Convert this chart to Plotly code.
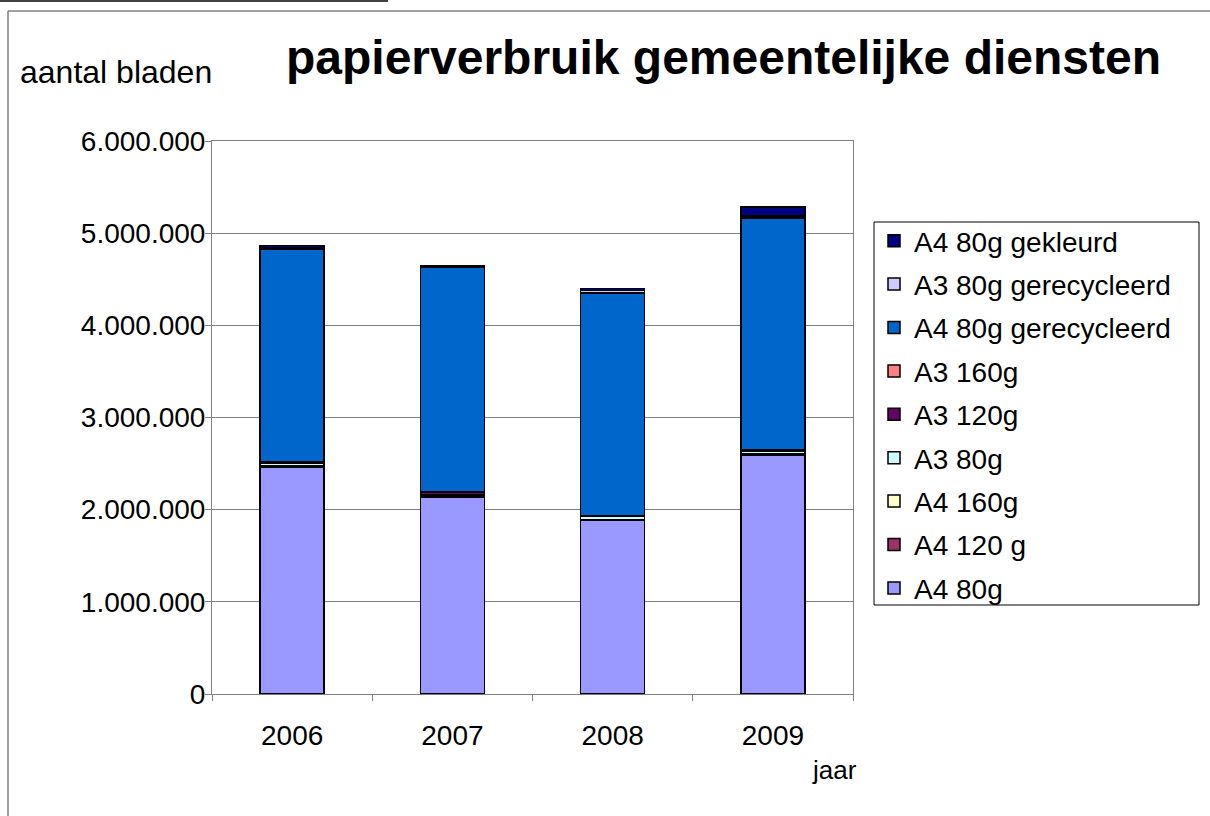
"""Paper usage of municipal services, stacked per paper type."""

import plotly.graph_objects as go

years = ['2006', '2007', '2008', '2009']

# series, bottom to top of the stack
series_names = [
    'A4 80g',
    'A4 120 g',
    'A4 160g',
    'A3 80g',
    'A3 120g',
    'A3 160g',
    'A4 80g gerecycleerd',
    'A3 80g gerecycleerd',
    'A4 80g gekleurd',
]
a4_80 = [2460000, 2140000, 1880000, 2590000]
a4_120 = [5000, 10000, 5000, 5000]
a4_160 = [10000, 5000, 10000, 10000]
a3_80 = [30000, 10000, 30000, 30000]
a3_120 = [5000, 20000, 5000, 10000]
a3_160 = [5000, 5000, 5000, 5000]
a4_80_recycled = [2315000, 2440000, 2415000, 2515000]
a3_80_recycled = [10000, 5000, 30000, 20000]
a4_80_colored = [25000, 15000, 20000, 100000]

series_values = [a4_80, a4_120, a4_160, a3_80, a3_120, a3_160,
                 a4_80_recycled, a3_80_recycled, a4_80_colored]
series_colors = ['#9999FF', '#993366', '#FFFFCC', '#CCFFFF', '#660066',
                 '#FF8080', '#0066CC', '#CCCCFF', '#000080']

FONT = 'Liberation Sans, Arial, sans-serif'

# plot area in pixels
L, R, T, B = 212, 853, 141, 694
W, H = 1210, 816


def px_x(x):
    return (x - L) / (R - L)


def px_y(y):
    return (B - y) / (B - T)


fig = go.Figure()
n = len(series_names)
for i, (name, vals, color) in enumerate(zip(series_names, series_values, series_colors)):
    fig.add_trace(go.Bar(
        x=years,
        y=vals,
        name=name,
        legendgroup=name,
        legendrank=100 + n - i,  # top of stack first in legend
        marker=dict(color=color, line=dict(color='black', width=1.5)),
    ))

fig.update_layout(
    width=W,
    height=H,
    barmode='stack',
    bargap=0.6,
    separators=',.',
    paper_bgcolor='white',
    plot_bgcolor='white',
    font=dict(family=FONT, size=28, color='black'),
    margin=dict(l=L, r=W - R, t=T, b=H - B, autoexpand=False),
    legend=dict(
        traceorder='grouped',
        tracegroupgap=4,
        x=px_x(874),
        y=px_y(216),
        xanchor='left',
        yanchor='top',
        bgcolor='rgba(0,0,0,0)',
        borderwidth=0,
        font=dict(size=28, family=FONT),
        itemwidth=30,
    ),
    xaxis=dict(
        showline=True,
        linecolor='#808080',
        linewidth=1,
        mirror=True,
        ticks='outside',
        tickson='boundaries',
        ticklen=6,
        tickcolor='#808080',
        ticklabelstandoff=16,
    ),
    yaxis=dict(
        range=[0, 6000000],
        dtick=1000000,
        tickformat=',d',
        showgrid=True,
        gridcolor='#808080',
        gridwidth=1,
        showline=True,
        linecolor='#808080',
        linewidth=1,
        mirror=True,
        ticks='outside',
        ticklen=6,
        tickcolor='#808080',
        ticklabelstandoff=-6,
        zeroline=False,
    ),
)

fig.add_annotation(
    text='<b>papierverbruik gemeentelijke diensten</b>',
    x=px_x(723), y=px_y(57), xref='paper', yref='paper',
    xanchor='center', yanchor='middle',
    showarrow=False, font=dict(size=48, family=FONT),
)
fig.add_annotation(
    text='aantal bladen',
    x=px_x(18), y=px_y(72), xref='paper', yref='paper',
    xanchor='left', yanchor='middle',
    showarrow=False, font=dict(size=32, family=FONT),
)
fig.add_annotation(
    text='jaar',
    x=px_x(810), y=px_y(770), xref='paper', yref='paper',
    xanchor='left', yanchor='middle',
    showarrow=False, font=dict(size=26, family=FONT),
)

# legend box
fig.add_shape(type='rect', xref='paper', yref='paper',
              x0=px_x(874), x1=px_x(1199), y0=px_y(222), y1=px_y(605),
              line=dict(color='black', width=1))

# surrounding frame of the chart object
fig.add_shape(type='line', xref='paper', yref='paper',
              x0=px_x(8), x1=px_x(1210), y0=px_y(11), y1=px_y(11),
              line=dict(color='#808080', width=1.5))
fig.add_shape(type='line', xref='paper', yref='paper',
              x0=px_x(8), x1=px_x(8), y0=px_y(11), y1=px_y(816),
              line=dict(color='#808080', width=1.5))
fig.add_shape(type='line', xref='paper', yref='paper',
              x0=px_x(0), x1=px_x(388), y0=px_y(1), y1=px_y(1),
              line=dict(color='black', width=1.5))

fig.write_html('out.html', config={'displayModeBar': False},
               post_script="document.body.style.margin='0';")
